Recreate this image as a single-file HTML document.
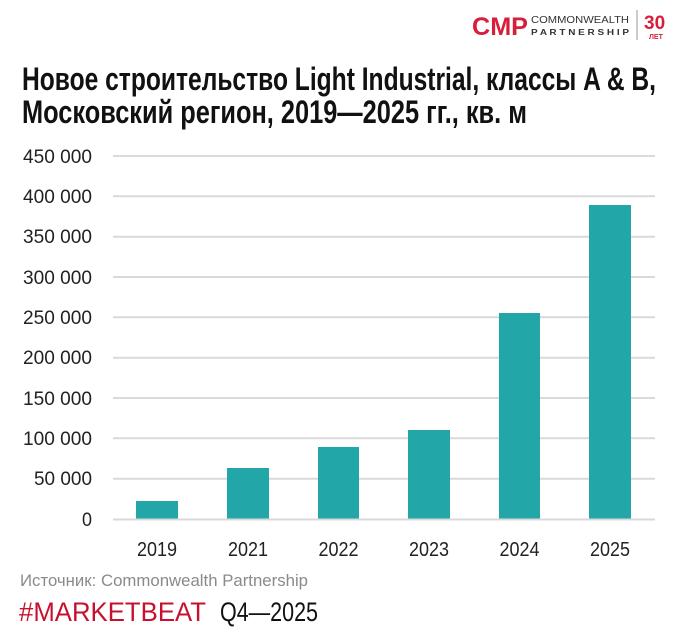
<!DOCTYPE html>
<html><head><meta charset="utf-8"><style>
html,body{margin:0;padding:0;background:#fff;}
svg{display:block;}
text{font-family:"Liberation Sans Narrow","Liberation Sans",sans-serif;}
</style></head><body>
<svg width="683" height="640" viewBox="0 0 683 640" xmlns="http://www.w3.org/2000/svg">
<text x="472" y="35" font-size="25" font-weight="bold" fill="#d71f3c" font-family="Liberation Sans" textLength="56" lengthAdjust="spacingAndGlyphs">CMP</text>
<text x="531" y="23" font-size="10" fill="#333" textLength="98" lengthAdjust="spacingAndGlyphs" font-family="Liberation Sans">COMMONWEALTH</text>
<text x="531" y="35" font-size="8" font-weight="bold" fill="#333" textLength="98" lengthAdjust="spacingAndGlyphs" font-family="Liberation Sans">P A R T N E R S H I P</text>
<line x1="637" y1="10" x2="637" y2="40" stroke="#999" stroke-width="1"/>
<text x="644" y="29" font-size="19" font-weight="bold" fill="#d71f3c" font-family="Liberation Sans">30</text>
<text x="649" y="39" font-size="7" font-weight="bold" fill="#d71f3c" font-family="Liberation Sans">ЛЕТ</text>
<text x="22" y="90" font-size="32" font-weight="bold" fill="#111" textLength="634" lengthAdjust="spacingAndGlyphs">Новое строительство Light Industrial, классы A &amp; B,</text>
<text x="22" y="123" font-size="32" font-weight="bold" fill="#111" textLength="505" lengthAdjust="spacingAndGlyphs">Московский регион, 2019—2025 гг., кв. м</text>
<g stroke="#d9d9d9" stroke-width="2">
<line x1="113" y1="156" x2="655" y2="156"/>
<line x1="113" y1="196.3" x2="655" y2="196.3"/>
<line x1="113" y1="236.7" x2="655" y2="236.7"/>
<line x1="113" y1="277" x2="655" y2="277"/>
<line x1="113" y1="317.3" x2="655" y2="317.3"/>
<line x1="113" y1="357.7" x2="655" y2="357.7"/>
<line x1="113" y1="398" x2="655" y2="398"/>
<line x1="113" y1="438.3" x2="655" y2="438.3"/>
<line x1="113" y1="478.7" x2="655" y2="478.7"/>
</g>
<g font-size="19" fill="#222">
<text x="23" y="163" textLength="69" lengthAdjust="spacingAndGlyphs">450 000</text>
<text x="23" y="203" textLength="69" lengthAdjust="spacingAndGlyphs">400 000</text>
<text x="23" y="243" textLength="69" lengthAdjust="spacingAndGlyphs">350 000</text>
<text x="23" y="284" textLength="69" lengthAdjust="spacingAndGlyphs">300 000</text>
<text x="23" y="324" textLength="69" lengthAdjust="spacingAndGlyphs">250 000</text>
<text x="23" y="364" textLength="69" lengthAdjust="spacingAndGlyphs">200 000</text>
<text x="23" y="405" textLength="69" lengthAdjust="spacingAndGlyphs">150 000</text>
<text x="23" y="445" textLength="69" lengthAdjust="spacingAndGlyphs">100 000</text>
<text x="34" y="485" textLength="58" lengthAdjust="spacingAndGlyphs">50 000</text>
<text x="82" y="526" textLength="10" lengthAdjust="spacingAndGlyphs">0</text>
</g>
<g fill="#22a6a7">
<rect x="136" y="501" width="42" height="18"/>
<rect x="227" y="468" width="42" height="51"/>
<rect x="318" y="447" width="41" height="72"/>
<rect x="408" y="430" width="42" height="89"/>
<rect x="499" y="313" width="41" height="206"/>
<rect x="589" y="205" width="42" height="314"/>
</g>
<line x1="113" y1="519.5" x2="655" y2="519.5" stroke="#d9d9d9" stroke-width="2"/>
<g font-size="20" fill="#222">
<text x="137" y="556" textLength="40" lengthAdjust="spacingAndGlyphs">2019</text>
<text x="228" y="556" textLength="40" lengthAdjust="spacingAndGlyphs">2021</text>
<text x="318.5" y="556" textLength="40" lengthAdjust="spacingAndGlyphs">2022</text>
<text x="409" y="556" textLength="40" lengthAdjust="spacingAndGlyphs">2023</text>
<text x="499.5" y="556" textLength="40" lengthAdjust="spacingAndGlyphs">2024</text>
<text x="590" y="556" textLength="40" lengthAdjust="spacingAndGlyphs">2025</text>
</g>
<text x="20" y="586" font-size="17" fill="#8a8a8a" textLength="288" lengthAdjust="spacingAndGlyphs">Источник: Commonwealth Partnership</text>
<text x="19" y="621" font-size="27" fill="#c8102e" textLength="187" lengthAdjust="spacingAndGlyphs">#MARKETBEAT</text>
<text x="220" y="621" font-size="27" fill="#111" textLength="98" lengthAdjust="spacingAndGlyphs">Q4—2025</text>
</svg>
</body></html>
